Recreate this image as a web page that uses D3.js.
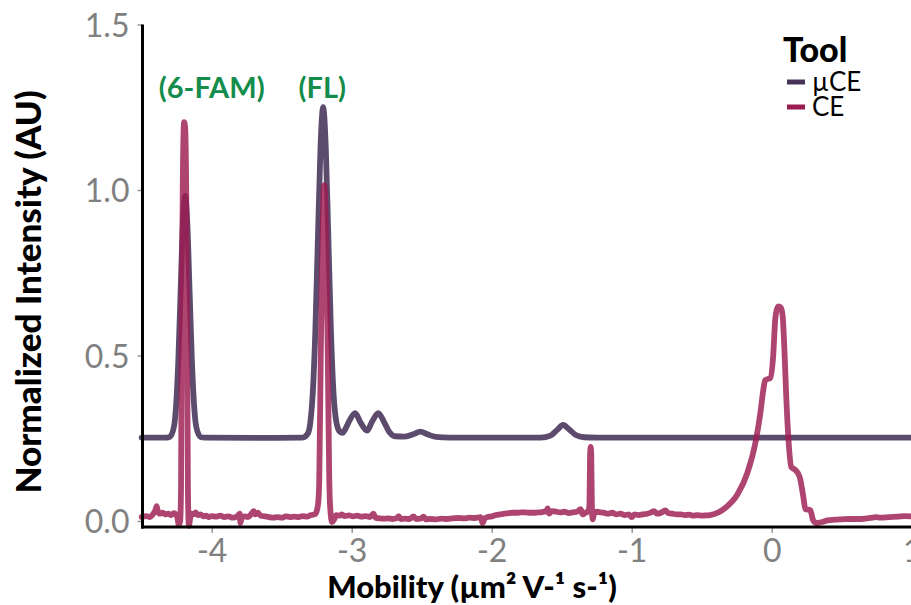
<!DOCTYPE html>
<html><head><meta charset="utf-8">
<script src="https://cdn.jsdelivr.net/npm/d3@7"></script>
<style>body{margin:0;background:#fff}svg{display:block}text{font-family:Lato,"Open Sans",sans-serif}</style>
</head><body><svg id="c" width="911" height="605"></svg>
<script>
// ---- data ----
const seriesNames = ["µCE", "CE"];
const seriesColors = ["#47325a", "#9c1b50"];
const xTicks = [-4, -3, -2, -1, 0, 1];
const yTicks = [0.0, 0.5, 1.0, 1.5];
const yTickLabels = ["0.0", "0.5", "1.0", "1.5"];
const annotations = [{label: "(6-FAM)", x: -4.0, y: 1.278}, {label: "(FL)", x: -3.21, y: 1.278}];

const muCE_x = [-4.50,-4.32,-4.30,-4.27,-4.254,-4.238,-4.222,-4.206,-4.19,-4.174,-4.158,-4.142,-4.126,-4.11,-4.08,-4.05,-3.6,-3.35,-3.315,-3.296,-3.278,-3.2595,-3.241,-3.2225,-3.204,-3.1855,-3.167,-3.1485,-3.13,-3.11,-3.085,-3.065,-3.045,-3.02,-2.975,-2.94,-2.89,-2.855,-2.81,-2.77,-2.73,-2.69,-2.62,-2.56,-2.51,-2.46,-2.40,-2.30,-1.65,-1.58,-1.53,-1.49,-1.45,-1.40,-1.34,-1.25,1.0];
const muCE_y = [0.252,0.252,0.254,0.284,0.351,0.489,0.695,0.896,0.982,0.896,0.695,0.489,0.351,0.284,0.254,0.252,0.251,0.252,0.263,0.296,0.387,0.576,0.858,1.132,1.25,1.132,0.858,0.576,0.387,0.30,0.27,0.266,0.278,0.30,0.326,0.30,0.273,0.30,0.326,0.30,0.268,0.256,0.255,0.262,0.27,0.262,0.254,0.252,0.252,0.258,0.276,0.29,0.278,0.26,0.253,0.252,0.252];

const ce_x = [-4.50,-4.47,-4.44,-4.42,-4.40,-4.393,-4.385,-4.37,-4.35,-4.33,-4.31,-4.29,-4.27,-4.255,-4.245,-4.235,-4.225,-4.219,-4.214,-4.206,-4.197,-4.19,-4.182,-4.176,-4.170,-4.163,-4.155,-4.145,-4.13,-4.114,-4.10,-4.08,-4.06,-4.04,-4.02,-4.00,-3.97,-3.94,-3.91,-3.88,-3.85,-3.82,-3.80,-3.795,-3.785,-3.76,-3.74,-3.72,-3.70,-3.69,-3.67,-3.65,-3.62,-3.59,-3.56,-3.53,-3.50,-3.47,-3.44,-3.41,-3.38,-3.35,-3.32,-3.29,-3.265,-3.25,-3.238,-3.232,-3.221,-3.207,-3.196,-3.185,-3.171,-3.16,-3.152,-3.14,-3.125,-3.11,-3.09,-3.07,-3.05,-3.02,-2.99,-2.96,-2.93,-2.90,-2.87,-2.845,-2.83,-2.80,-2.77,-2.74,-2.71,-2.68,-2.665,-2.65,-2.62,-2.59,-2.557,-2.54,-2.51,-2.486,-2.47,-2.44,-2.40,-2.36,-2.32,-2.28,-2.24,-2.20,-2.16,-2.12,-2.08,-2.065,-2.05,-2.03,-2.00,-1.97,-1.94,-1.91,-1.88,-1.85,-1.82,-1.79,-1.76,-1.73,-1.70,-1.67,-1.64,-1.61,-1.60,-1.59,-1.57,-1.54,-1.51,-1.48,-1.45,-1.42,-1.39,-1.365,-1.35,-1.33,-1.31,-1.302,-1.297,-1.293,-1.289,-1.284,-1.278,-1.27,-1.25,-1.22,-1.20,-1.17,-1.14,-1.11,-1.08,-1.05,-1.02,-1.00,-0.98,-0.95,-0.92,-0.89,-0.86,-0.84,-0.82,-0.79,-0.76,-0.74,-0.71,-0.68,-0.65,-0.62,-0.59,-0.56,-0.53,-0.50,-0.47,-0.44,-0.38,-0.33,-0.245,-0.174,-0.117,-0.081,-0.06,-0.046,-0.01,0.01,0.025,0.04,0.05,0.065,0.078,0.09,0.104,0.12,0.14,0.17,0.2,0.226,0.24,0.276,0.295,0.32,0.36,0.40,0.45,0.50,0.56,0.62,0.68,0.72,0.74,0.78,0.84,0.90,0.95,1.00];
const ce_y = [0.012,0.015,0.012,0.02,0.035,0.045,0.03,0.022,0.025,0.02,0.022,0.018,0.024,0.02,0.01,-0.012,0.0,0.1,0.6,1.05,1.205,1.19,1.0,0.6,0.1,-0.015,0.005,0.022,0.02,0.026,0.018,0.02,0.014,0.016,0.012,0.015,0.013,0.016,0.012,0.014,0.01,0.013,0.022,-0.006,0.012,0.014,0.012,0.02,0.03,0.02,0.025,0.016,0.014,0.012,0.01,0.012,0.01,0.014,0.012,0.013,0.012,0.015,0.013,0.018,0.02,0.03,0.06,0.12,0.5,0.9,1.015,0.9,0.5,0.12,0.03,-0.003,0.005,0.018,0.016,0.02,0.015,0.017,0.014,0.016,0.013,0.015,0.012,0.022,0.01,0.008,0.007,0.008,0.006,0.008,0.015,0.006,0.007,0.006,0.014,0.006,0.007,0.013,0.005,0.006,0.005,0.007,0.006,0.008,0.009,0.008,0.01,0.009,0.012,-0.006,0.008,0.012,0.014,0.018,0.02,0.022,0.024,0.025,0.025,0.026,0.026,0.025,0.025,0.026,0.027,0.03,0.038,0.022,0.03,0.028,0.026,0.028,0.024,0.026,0.028,0.036,0.02,0.025,0.03,0.05,0.2,0.224,0.2,0.03,0.005,0.02,0.028,0.026,0.025,0.022,0.025,0.02,0.022,0.018,0.02,0.012,0.02,0.018,0.02,0.022,0.026,0.03,0.022,0.025,0.032,0.024,0.022,0.02,0.02,0.018,0.019,0.016,0.018,0.016,0.017,0.018,0.026,0.04,0.08,0.145,0.235,0.326,0.396,0.426,0.432,0.495,0.607,0.643,0.648,0.645,0.62,0.526,0.375,0.245,0.163,0.154,0.133,0.073,0.036,0.033,0.003,-0.006,-0.003,0.002,0.004,0.005,0.006,0.006,0.008,0.01,0.012,0.01,0.012,0.013,0.015,0.014,0.016];

// ---- drawing ----
const svg = d3.select("#c");
const x = d3.scaleLinear().domain([-4.5, 1]).range([141.7, 911.7]);
const y = d3.scaleLinear().domain([0, 1.5]).range([521, 24.5]);
const plotBottom = 527;

// white gridlines (only visible through the translucent traces)
const gx = d3.range(-4.5, 1.01, 0.5), gy = d3.range(0, 1.51, 0.25);
svg.append("g").selectAll("line").data(gx).join("line")
  .attr("x1", d => x(d)).attr("x2", d => x(d)).attr("y1", y(1.5)).attr("y2", plotBottom)
  .attr("stroke", "#fff").attr("stroke-width", 1.2);
svg.append("g").selectAll("line").data(gy).join("line")
  .attr("x1", x(-4.5)).attr("x2", x(1)).attr("y1", d => y(d)).attr("y2", d => y(d))
  .attr("stroke", "#fff").attr("stroke-width", 1.2);

const series = [
  {name: seriesNames[0], color: seriesColors[0], opacity: 0.88, pts: muCE_x.map((v, i) => [v, muCE_y[i]])},
  {name: seriesNames[1], color: seriesColors[1], opacity: 0.82, pts: ce_x.map((v, i) => [v, ce_y[i]])}
];
const line = d3.line().x(d => x(d[0])).y(d => y(d[1])).curve(d3.curveMonotoneX);
svg.append("g").selectAll("path").data(series).join("path")
  .attr("d", d => line(d.pts)).attr("fill", "none")
  .attr("stroke", d => d.color).attr("stroke-opacity", d => d.opacity)
  .attr("stroke-width", 5.8).attr("stroke-linejoin", "round").attr("stroke-linecap", "round");

// axes
const yAxis = d3.axisLeft(y).tickValues(yTicks).tickFormat((d, i) => yTickLabels[i]).tickSize(5).tickPadding(8);
const gY = svg.append("g").attr("transform", "translate(142.5,0)").call(yAxis);
gY.select(".domain").remove();
gY.selectAll(".tick line").attr("stroke", "#888").attr("stroke-width", 1.3);
gY.selectAll(".tick text").attr("fill", "#808080").style("font-size", "32px").attr("dy", "0.36em");

const xAxis = d3.axisBottom(x).tickValues(xTicks).tickFormat(d => d === 0 ? "0" : (d < 0 ? "-" + Math.abs(d) : String(d))).tickSize(6).tickPadding(6);
const gX = svg.append("g").attr("transform", `translate(0,${plotBottom})`).call(xAxis);
gX.select(".domain").remove();
gX.selectAll(".tick line").attr("stroke", "#888").attr("stroke-width", 1.3);
gX.selectAll(".tick text").attr("fill", "#808080").style("font-size", "32px");

svg.append("line").attr("x1", 142.5).attr("x2", 142.5).attr("y1", y(1.5)).attr("y2", plotBottom + 1.5)
  .attr("stroke", "#000").attr("stroke-width", 3);
svg.append("line").attr("x1", 141).attr("x2", 911).attr("y1", plotBottom).attr("y2", plotBottom)
  .attr("stroke", "#000").attr("stroke-width", 3);

// axis titles
svg.append("text").attr("x", 472).attr("y", 598).attr("text-anchor", "middle")
  .style("font-size", "31px").style("font-weight", "900").text("Mobility (µm² V-¹ s-¹)");
svg.append("text").attr("transform", "translate(41,292) rotate(-90)").attr("text-anchor", "middle")
  .style("font-size", "35px").style("font-weight", "900").text("Normalized Intensity (AU)");

// annotations
svg.append("g").selectAll("text").data(annotations).join("text")
  .attr("x", d => x(d.x)).attr("y", d => y(d.y)).attr("text-anchor", "middle")
  .attr("fill", "#148c4b").style("font-size", "29px").style("font-weight", "700").text(d => d.label);

// legend
const lg = svg.append("g");
lg.append("text").attr("x", 783).attr("y", 62).style("font-size", "34px").style("font-weight", "900").text("Tool");
const li = lg.selectAll("g.item").data(series).join("g").attr("class", "item")
  .attr("transform", (d, i) => `translate(0,${82 + i * 25})`);
li.append("line").attr("x1", 787).attr("x2", 805).attr("y1", 0).attr("y2", 0)
  .attr("stroke", d => d.color).attr("stroke-width", 5);
li.append("text").attr("x", 812).attr("y", 0).attr("dy", "0.36em").style("font-size", "26px").text(d => d.name);
</script></body></html>
